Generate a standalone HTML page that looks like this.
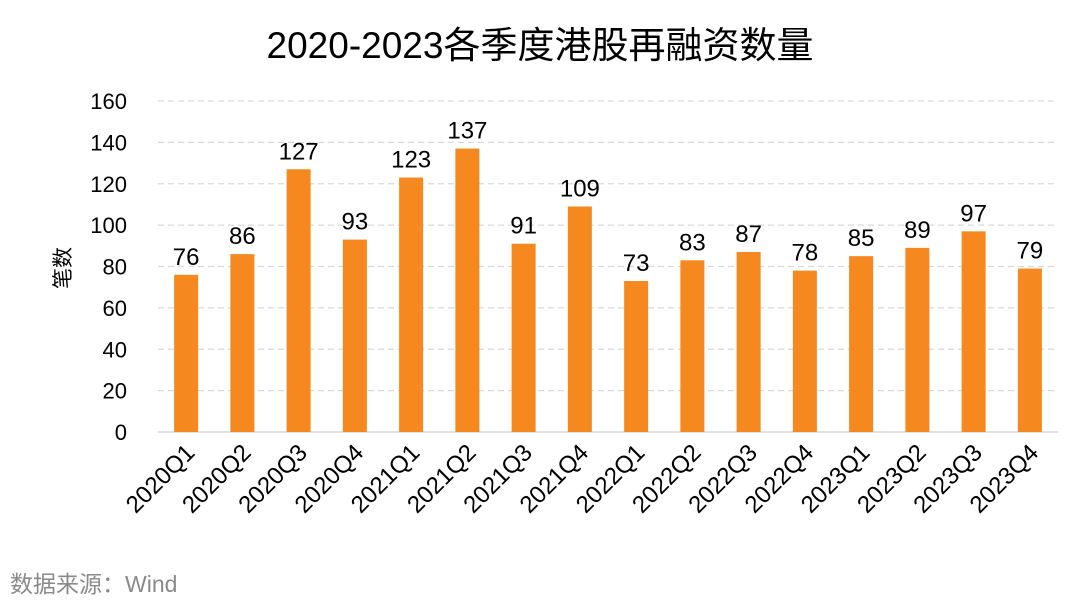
<!DOCTYPE html>
<html><head><meta charset="utf-8"><style>
body{margin:0;background:#fff;width:1080px;height:613px;overflow:hidden}
svg{display:block;font-family:"Liberation Sans","Noto Sans CJK SC",sans-serif}
</style></head><body>
<svg id="chart" width="1080" height="613">
<text x="540" y="58" text-anchor="middle" font-size="37" fill="#000">2020-2023各季度港股再融资数量</text>
<text transform="translate(70,268) rotate(-90)" text-anchor="middle" font-size="21" fill="#000">笔数</text>
<g id="grid"></g><g id="bars"></g><g id="xlabels"></g>
<text x="10" y="592" font-size="23" fill="#8a8a8a">数据来源：Wind</text>
</svg>
<script>
const categories=["2020Q1","2020Q2","2020Q3","2020Q4","2021Q1","2021Q2","2021Q3","2021Q4","2022Q1","2022Q2","2022Q3","2022Q4","2023Q1","2023Q2","2023Q3","2023Q4"];
const values=[76,86,127,93,123,137,91,109,73,83,87,78,85,89,97,79];
const yTicks=[0,20,40,60,80,100,120,140,160];
const NS="http://www.w3.org/2000/svg";
const x0=158,x1=1058,y0=432,y1=101,yMax=160;
const yScale=v=>y0-(v/yMax)*(y0-y1);
const step=(x1-x0)/categories.length;
const xScale=i=>x0+step*(i+0.5);
function mk(tag,attrs,parent,txt){const e=document.createElementNS(NS,tag);for(const k in attrs)e.setAttribute(k,attrs[k]);if(txt!==undefined)e.textContent=txt;parent.appendChild(e);return e;}
const grid=document.getElementById('grid'),bars=document.getElementById('bars'),xl=document.getElementById('xlabels');
yTicks.forEach(t=>{
  const y=yScale(t);
  const l=mk('line',{x1:x0,x2:x1,y1:y,y2:y,stroke:t===0?'#d0d0d0':'#d9d9d9','stroke-width':1.3,'stroke-dasharray':t===0?'':'6,4'},grid);
  
  
  const tx=mk('text',{x:127,y:y+8,'text-anchor':'end','font-size':22,fill:'#000'},grid,t);
  
  
});
values.forEach((v,i)=>{
  const cx=xScale(i),w=24,y=yScale(v);
  const r=mk('rect',{x:cx-w/2,y:y,width:w,height:y0-y,fill:'#f5891f'},bars);
  
  
  const t=mk('text',{x:cx,y:y-10,'text-anchor':'middle','font-size':24,fill:'#000'},bars,v);
  
  
  const lb=mk('text',{transform:`translate(${cx+10},${y0+22}) rotate(-45)`,'text-anchor':'end','font-size':24,fill:'#000'},xl,categories[i]);
  
  
});
</script>
</body></html>
